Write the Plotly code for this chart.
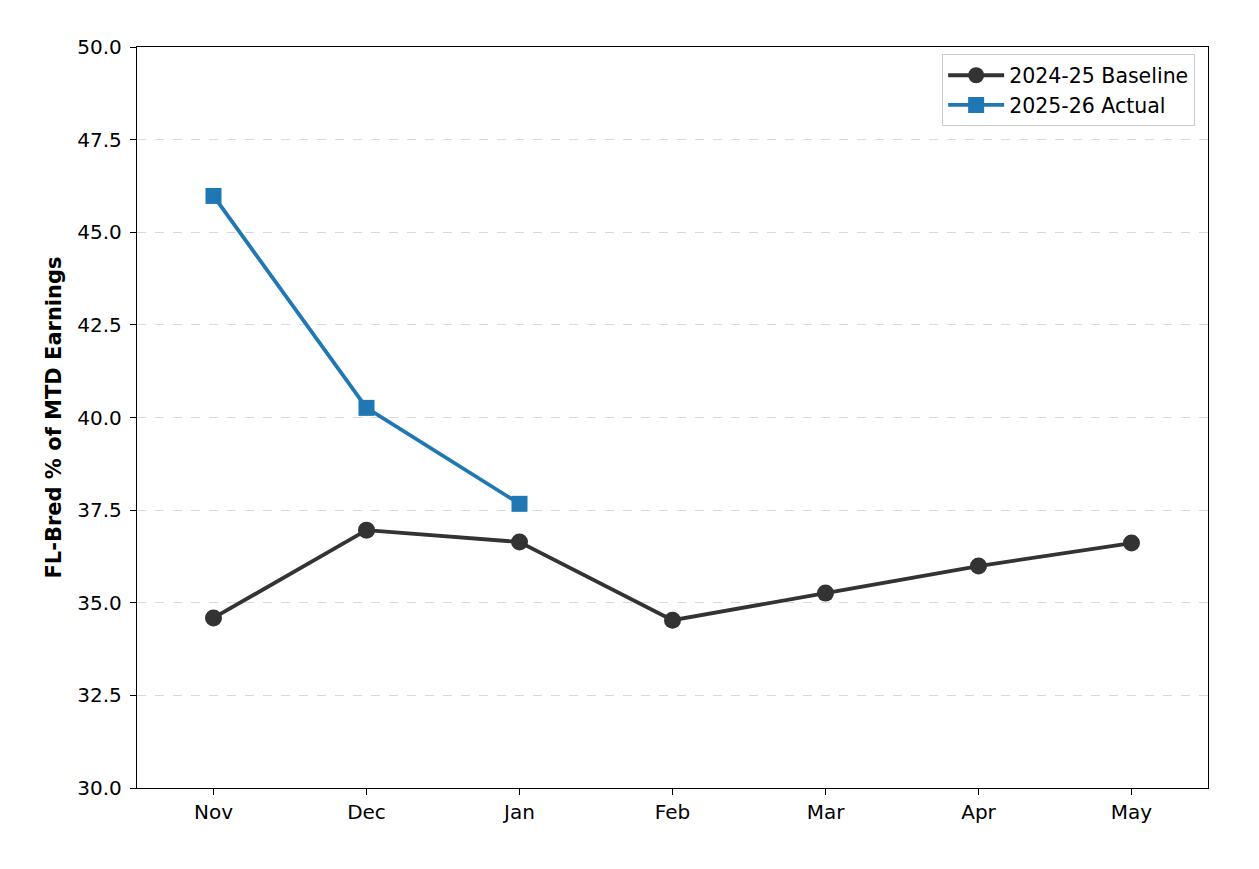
import plotly.graph_objects as go

months = ["Nov", "Dec", "Jan", "Feb", "Mar", "Apr", "May"]
baseline = [34.59, 36.96, 36.64, 34.53, 35.26, 35.99, 36.61]
actual_months = ["Nov", "Dec", "Jan"]
actual = [45.98, 40.26, 37.67]
y_ticks = [30.0, 32.5, 35.0, 37.5, 40.0, 42.5, 45.0, 47.5, 50.0]

fig = go.Figure()
fig.add_trace(go.Scatter(
    x=months, y=baseline, mode="lines+markers", name="2024-25 Baseline",
    line=dict(color="#333333", width=3.8),
    marker=dict(symbol="circle", size=17, color="#333333"),
))
fig.add_trace(go.Scatter(
    x=actual_months, y=actual, mode="lines+markers", name="2025-26 Actual",
    line=dict(color="#1f77b4", width=3.8),
    marker=dict(symbol="square", size=16, color="#1f77b4"),
))

fig.update_layout(
    width=1259, height=869,
    margin=dict(l=129, r=59, t=39, b=89),
    paper_bgcolor="white", plot_bgcolor="white",
    font=dict(family="DejaVu Sans", size=20, color="black"),
    showlegend=True,
    legend=dict(
        x=0.988, y=0.99, xanchor="right", yanchor="top",
        bordercolor="#cccccc", borderwidth=1, bgcolor="rgba(255,255,255,0.8)",
        font=dict(size=20.5), itemwidth=56, tracegroupgap=0,
    ),
    xaxis=dict(
        type="category", categoryorder="array", categoryarray=months,
        range=[-0.5, 6.5], showgrid=False,
        showline=True, linecolor="black", linewidth=1.4, mirror=True,
        ticks="outside", ticklen=6, tickcolor="black",
        tickfont=dict(size=20),
    ),
    yaxis=dict(
        range=[30, 50], tickvals=y_ticks,
        ticktext=[f"{v:.1f}" for v in y_ticks],
        showgrid=True, gridcolor="#d9d9d9", griddash="dash", gridwidth=1.2,
        showline=True, linecolor="black", linewidth=1.4, mirror=True,
        ticks="outside", ticklen=6, tickcolor="black",
        tickfont=dict(size=20), zeroline=False, ticklabelstandoff=4,
        title=dict(text="<b>FL-Bred % of MTD Earnings</b>", font=dict(size=21), standoff=9),
    ),
)

fig.write_html("out.html")
